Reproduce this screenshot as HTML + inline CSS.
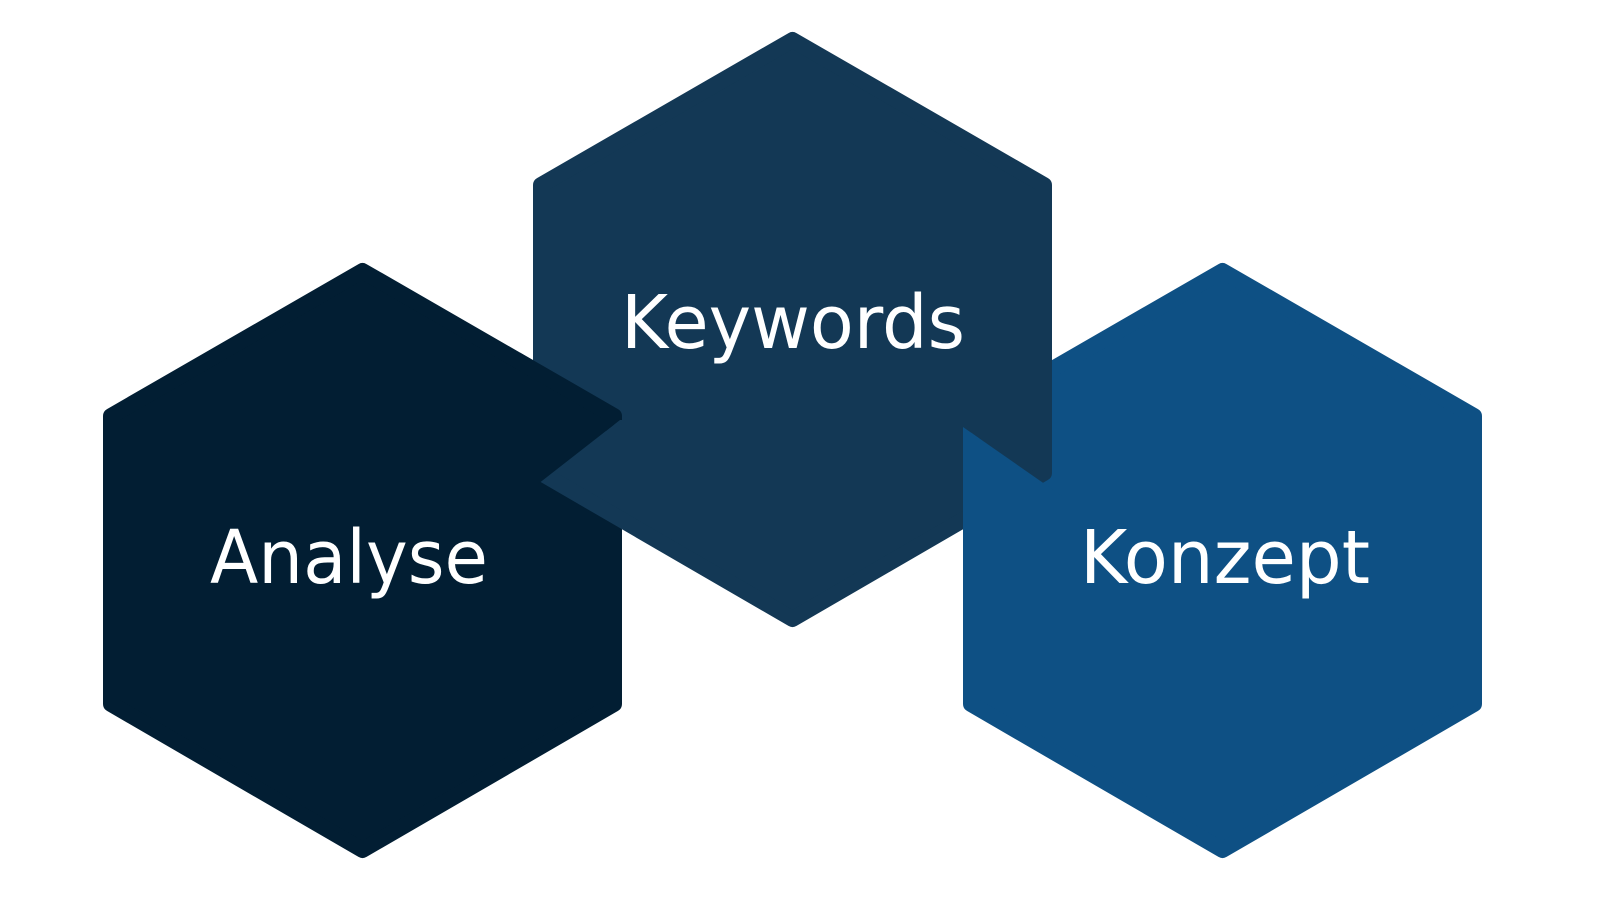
<!DOCTYPE html>
<html><head><meta charset="utf-8"><style>html,body{margin:0;padding:0;background:#fff;}svg{display:block}</style></head>
<body>
<svg width="1600" height="918" viewBox="0 0 1600 918" xmlns="http://www.w3.org/2000/svg">
<defs>
<clipPath id="ca"><polygon points="520,330 640,330 640,420 620,420 538,484 520,484"/></clipPath>
<clipPath id="ck"><polygon points="963,427 1062,496 1062,650 963,650"/></clipPath>
</defs>
<g stroke-linejoin="round" stroke-width="16">
<polygon points="362.5,271 614,416 614,704 362.5,850 111,704 111,416" fill="#021e33" stroke="#021e33"/>
<polygon points="1222.5,271 1474,416 1474,704 1222.5,850 971,704 971,416" fill="#0e5084" stroke="#0e5084"/>
<polygon points="792.5,40 1044,185 1044,473 792.5,619 541,473 541,185" fill="#133855" stroke="#133855"/>
<g clip-path="url(#ca)"><polygon points="362.5,271 614,416 614,704 362.5,850 111,704 111,416" fill="#021e33" stroke="#021e33"/></g>
<g clip-path="url(#ck)"><polygon points="1222.5,271 1474,416 1474,704 1222.5,850 971,704 971,416" fill="#0e5084" stroke="#0e5084"/></g>
</g>
<g font-family="DejaVu Sans, Liberation Sans, sans-serif" font-size="74" fill="#fff">
<text x="210" y="583" textLength="278" lengthAdjust="spacingAndGlyphs">Analyse</text>
<text x="621" y="348" textLength="344" lengthAdjust="spacingAndGlyphs">Keywords</text>
<text x="1080" y="583" textLength="290" lengthAdjust="spacingAndGlyphs">Konzept</text>
</g>
</svg>
</body></html>
